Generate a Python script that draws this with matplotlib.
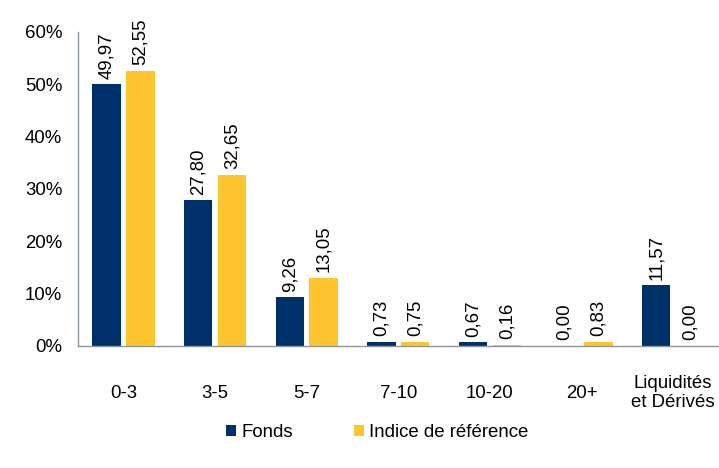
import matplotlib
matplotlib.use("Agg")
import matplotlib.pyplot as plt
import numpy as np

plt.rcParams['font.family'] = ['Liberation Sans', 'DejaVu Sans']

categories = ["0-3", "3-5", "5-7", "7-10", "10-20", "20+", "Liquidités\net Dérivés"]
fonds = [49.97, 27.80, 9.26, 0.73, 0.67, 0.00, 11.57]
indice = [52.55, 32.65, 13.05, 0.75, 0.16, 0.83, 0.00]
series_names = ["Fonds", "Indice de référence"]

navy = "#00306A"
yellow = "#FFC52E"
grey = "#8C96A0"
fs = 13.4


def fmt(v):
    return ("%.2f" % v).replace(".", ",")


fig = plt.figure(figsize=(7.19, 4.68), dpi=100)
ax = fig.add_axes([0.108, 0.261, 0.892, 0.671])

x = np.arange(len(categories))
w = 0.31
off = 0.185

b1 = ax.bar(x - off, fonds, w, color=navy, label=series_names[0])
b2 = ax.bar(x + off, indice, w, color=yellow, label=series_names[1])

# value labels, rotated like the original
for bars, vals in [(b1, fonds), (b2, indice)]:
    for bar, v in zip(bars, vals):
        ax.annotate(fmt(v), (bar.get_x() + bar.get_width() / 2, v),
                    xytext=(0, 4), textcoords="offset points",
                    rotation=90, ha="center", va="bottom", fontsize=fs)

ax.set_xlim(-0.5, len(categories) - 0.5)
ax.set_ylim(0, 60)
ax.set_yticks(range(0, 61, 10))
ax.set_yticklabels(["%d%%" % t for t in range(0, 61, 10)], fontsize=fs)
ax.set_xticks(x)
ax.set_xticklabels(categories, fontsize=fs, va="center", linespacing=1.2)
ax.tick_params(axis="x", length=0, pad=34)
ax.tick_params(axis="y", length=0, pad=11)

for s in ["top", "right"]:
    ax.spines[s].set_visible(False)
for s in ["left", "bottom"]:
    ax.spines[s].set_color(grey)
    ax.spines[s].set_linewidth(1)

fig.legend(loc="center", bbox_to_anchor=(0.525, 0.075), ncol=2, frameon=False,
           fontsize=fs, handlelength=0.5, handleheight=0.5, columnspacing=3.3,
           handletextpad=0.3)

fig.savefig("out.png", dpi=100)
